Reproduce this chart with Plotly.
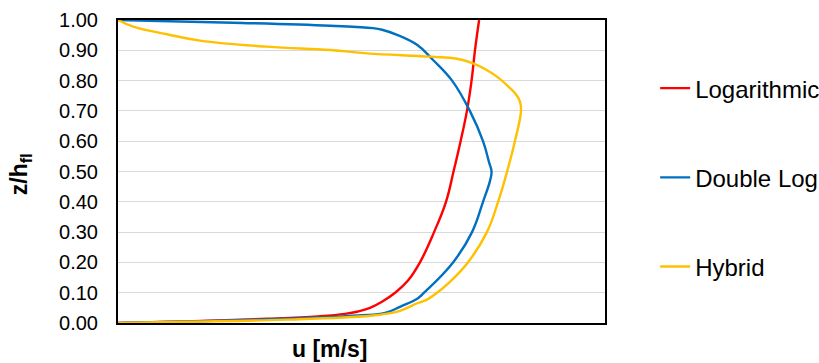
import plotly.graph_objects as go

# Logarithmic profile
log_u = [0.0, 0.275, 0.616, 0.821, 0.932, 0.986, 1.035, 1.084, 1.138, 1.191, 1.240,
         1.298, 1.347, 1.378, 1.407, 1.433, 1.452, 1.466, 1.483]
log_z = [0.0, 0.005, 0.014, 0.022, 0.030, 0.038, 0.050, 0.070, 0.100, 0.140, 0.200,
         0.300, 0.400, 0.500, 0.600, 0.700, 0.800, 0.900, 1.000]

# Double Log profile
dbl_u = [0.0, 0.275, 0.686, 0.986, 1.097, 1.162, 1.232, 1.257, 1.376, 1.454,
         1.499, 1.528, 1.534, 1.524, 1.499, 1.445, 1.372, 1.294, 1.228, 1.146,
         1.088, 1.047, 0.871, 0.472, 0.0]
dbl_z = [0.0, 0.005, 0.014, 0.025, 0.033, 0.055, 0.082, 0.100, 0.200, 0.300,
         0.400, 0.470, 0.500, 0.530, 0.600, 0.700, 0.800, 0.868, 0.918, 0.951,
         0.967, 0.973, 0.981, 0.991, 1.000]

# Hybrid profile
hyb_u = [0.0, 0.275, 0.686, 1.039, 1.121, 1.158, 1.232, 1.269, 1.310, 1.355, 1.437,
         1.515, 1.561, 1.598, 1.630, 1.655, 1.651, 1.634, 1.610, 1.556, 1.503, 1.458,
         1.392, 1.281, 1.023, 0.871, 0.612, 0.337, 0.201, 0.062, 0.0]
hyb_z = [0.0, 0.004, 0.011, 0.024, 0.033, 0.040, 0.066, 0.077, 0.100, 0.130, 0.200,
         0.300, 0.400, 0.500, 0.600, 0.700, 0.730, 0.755, 0.775, 0.813, 0.840, 0.857,
         0.872, 0.879, 0.890, 0.901, 0.912, 0.932, 0.953, 0.978, 1.000]

y_ticks = [0.0, 0.1, 0.2, 0.3, 0.4, 0.5, 0.6, 0.7, 0.8, 0.9, 1.0]
y_tick_labels = ["0.00", "0.10", "0.20", "0.30", "0.40", "0.50",
                 "0.60", "0.70", "0.80", "0.90", "1.00"]

series = [
    ("Logarithmic", log_u, log_z, "#FF0000"),
    ("Double Log", dbl_u, dbl_z, "#0070C0"),
    ("Hybrid", hyb_u, hyb_z, "#FFC000"),
]

FONT = "Liberation Sans, Arial, sans-serif"

fig = go.Figure()
for i, (name, u, z, col) in enumerate(series):
    fig.add_trace(go.Scatter(
        x=u, y=z, mode="lines", name=name, legendgroup=name,
        line=dict(color=col, width=2.4, shape="spline", smoothing=1.2),
    ))

fig.update_layout(
    width=819, height=363,
    margin=dict(l=118, r=214, t=20, b=40, autoexpand=False),
    paper_bgcolor="white", plot_bgcolor="white",
    font=dict(family=FONT, color="#000000"),
    showlegend=True,
    legend=dict(
        x=1.103, y=0.48, xanchor="left", yanchor="middle",
        font=dict(size=24, family=FONT, color="#000000"),
        tracegroupgap=55, bgcolor="rgba(0,0,0,0)",
    ),
    xaxis=dict(
        range=[0, 2.0], showticklabels=False, ticks="", showgrid=False,
        zeroline=False, showline=True, linecolor="#000000", linewidth=2, mirror=True,
    ),
    yaxis=dict(
        range=[0, 1.0], tickvals=y_ticks, ticktext=y_tick_labels, ticks="",
        tickfont=dict(size=20, family=FONT, color="#000000"),
        showgrid=True, gridcolor="#D9D9D9", gridwidth=1.3,
        zeroline=False, showline=True, linecolor="#000000", linewidth=2, mirror=True,
        ticklabelstandoff=14,
    ),
    annotations=[
        dict(text="<b>u [m/s]</b>", xref="paper", yref="paper", x=0.435, y=-0.086,
             xanchor="center", yanchor="middle", showarrow=False,
             font=dict(size=23, family=FONT, color="#000000")),
        dict(text="<b>z/h<sub>fl</sub></b>", xref="paper", yref="paper", x=-0.2, y=0.49,
             xanchor="center", yanchor="middle", showarrow=False, textangle=-90,
             font=dict(size=23, family=FONT, color="#000000")),
    ],
)

fig.write_html("out.html")
